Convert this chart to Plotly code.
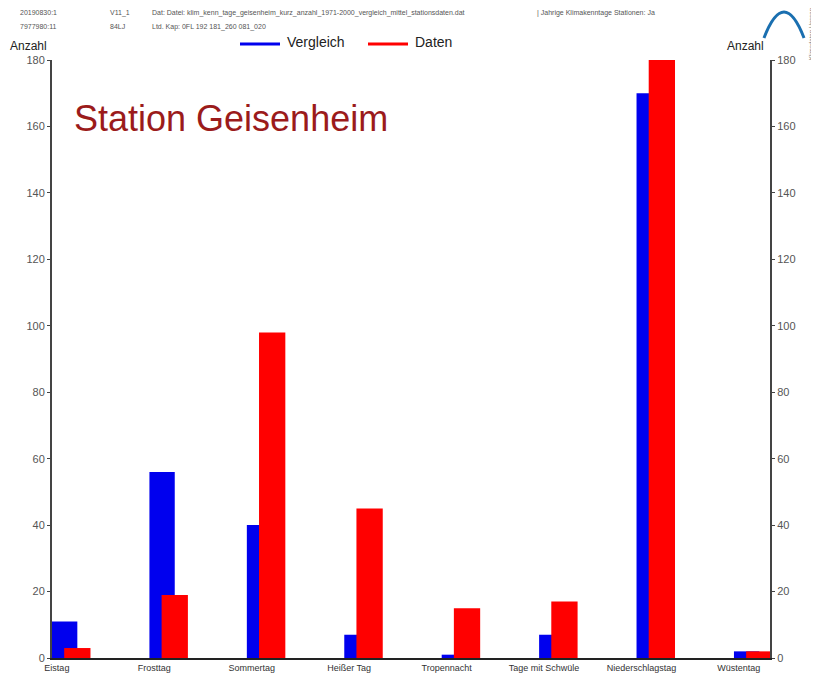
import plotly.graph_objects as go

categories = ["Eistag", "Frosttag", "Sommertag", "Heißer Tag", "Tropennacht",
              "Tage mit Schwüle", "Niederschlagstag", "Wüstentag"]
vergleich = [11, 56, 40, 7, 1, 7, 170, 2]
daten = [3, 19, 98, 45, 15, 17, 180, 2]
y_ticks = [0, 20, 40, 60, 80, 100, 120, 140, 160, 180]
series_names = ["Vergleich", "Daten"]

BLUE = "#0000EE"
RED = "#FF0000"
idx = list(range(len(categories)))

fig = go.Figure()
fig.add_trace(go.Bar(x=[i + 0.08 for i in idx], y=vergleich, width=0.26, name=series_names[0],
                     marker=dict(color=BLUE, line=dict(width=0)), showlegend=False))
fig.add_trace(go.Bar(x=[i + 0.21 for i in idx], y=daten, width=0.27, name=series_names[1],
                     marker=dict(color=RED, line=dict(width=0)), showlegend=False))
# right axis mirror
fig.add_trace(go.Scatter(x=[None], y=[None], yaxis="y2", showlegend=False))

axis_font = dict(family="Liberation Sans, Arial", size=11, color="#555555")
fig.update_layout(
    width=811, height=676,
    margin=dict(l=44, r=49, t=52, b=26, autoexpand=False),
    paper_bgcolor="white", plot_bgcolor="white",
    barmode="overlay",
    showlegend=False,
    font=dict(family="Liberation Sans, Arial"),
    xaxis=dict(range=[-0.05, 7.32], tickmode="array", tickvals=idx,
               ticktext=categories, showgrid=False, zeroline=False,
               showline=True, linecolor="#222222", linewidth=2,
               ticks="", tickfont=dict(family="Liberation Sans, Arial", size=9, color="#333333"),
               fixedrange=True),
    yaxis=dict(range=[0, 180], tickvals=y_ticks, showgrid=False, zeroline=False,
               showline=True, linecolor="#444444", linewidth=2,
               ticks="outside", ticklen=3, tickcolor="#444444",
               tickfont=axis_font),
    yaxis2=dict(range=[0, 180], tickvals=y_ticks, overlaying="y", side="right",
                showgrid=False, zeroline=False, showline=True,
                linecolor="#444444", linewidth=2, ticks="outside", ticklen=3,
                tickcolor="#444444", tickfont=axis_font),
)

# page pixel -> paper coords (page has 8px body margin)
def px_x(p):
    return (p - 52) / 718.0

def px_y(p):
    return (658 - p) / 598.0

for (x0, x1, tx), color, name in zip([(240, 280, 285), (368, 408, 413)], [BLUE, RED], series_names):
    fig.add_shape(type="line", xref="paper", yref="paper",
                  x0=px_x(x0), x1=px_x(x1), y0=px_y(44), y1=px_y(44),
                  line=dict(color=color, width=3))
    fig.add_annotation(text=name, xref="paper", yref="paper", x=px_x(tx), y=px_y(42),
                       xanchor="left", yanchor="middle", showarrow=False,
                       font=dict(size=14, color="#222222"))

fig.add_annotation(text="Station Geisenheim", xref="paper", yref="paper",
                   x=px_x(72), y=px_y(118), xanchor="left", yanchor="middle", showarrow=False,
                   font=dict(size=36, color="#9B1B1B", family="Liberation Sans, Arial"))
fig.add_annotation(text="Anzahl", xref="paper", yref="paper", x=px_x(8), y=px_y(46),
                   xanchor="left", yanchor="middle", showarrow=False,
                   font=dict(size=12, color="#222222"))
fig.add_annotation(text="Anzahl", xref="paper", yref="paper", x=px_x(766), y=px_y(46),
                   xanchor="right", yanchor="middle", showarrow=False,
                   font=dict(size=12, color="#222222"))
header = [
    (18, 13, "20190830:1"), (18, 27, "7977980:11"),
    (108, 13, "V11_1"), (108, 27, "84LJ"),
    (150, 13, "Dat: Datei: klim_kenn_tage_geisenheim_kurz_anzahl_1971-2000_vergleich_mittel_stationsdaten.dat"),
    (150, 27, "Ltd. Kap: 0FL 192 181_260 081_020"),
    (535, 13, "| Jahrige Klimakenntage Stationen: Ja"),
]
for hx, hy, txt in header:
    fig.add_annotation(text=txt, xref="paper", yref="paper",
                       x=px_x(hx), y=px_y(hy),
                       xanchor="left", yanchor="middle", showarrow=False,
                       font=dict(size=7, color="#555555"))
fig.add_annotation(text="Klimadaten Hessen", xref="paper", yref="paper", x=px_x(811), y=px_y(6),
                   textangle=-90, xanchor="center", yanchor="top", showarrow=False,
                   font=dict(size=6, color="#777777"))
# logo arc
fig.add_shape(type="path", xref="paper", yref="paper",
              path="M {:.4f} {:.4f} Q {:.4f} {:.4f} {:.4f} {:.4f}".format(
                  px_x(764), px_y(38), px_x(784), px_y(-14), px_x(804), px_y(38)),
              line=dict(color="#1A6FB0", width=3))

fig.write_html("out.html")
